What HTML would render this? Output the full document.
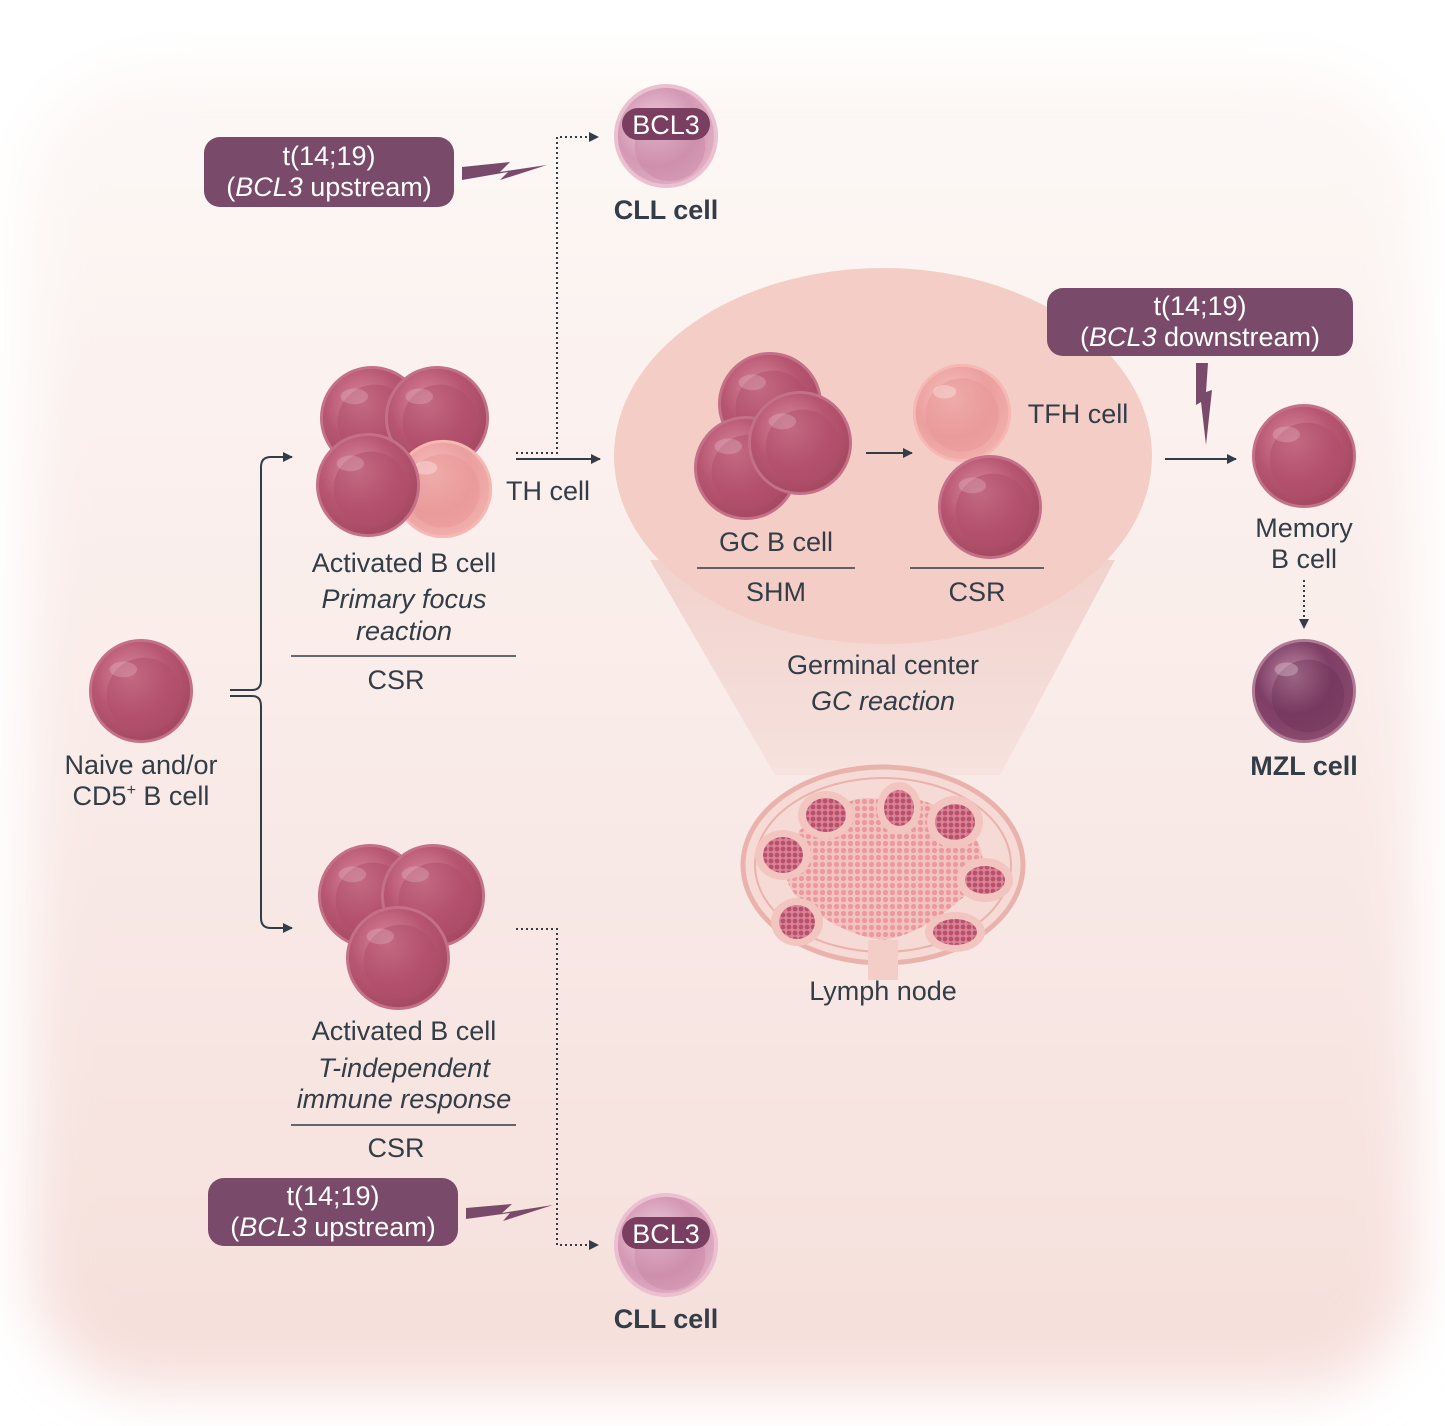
<!DOCTYPE html>
<html><head><meta charset="utf-8"><style>
html,body{margin:0;padding:0;background:#fff}
svg{display:block}
text{font-family:"Liberation Sans",sans-serif;fill:#333d47}
</style></head><body>
<svg width="1445" height="1426" viewBox="0 0 1445 1426" xmlns="http://www.w3.org/2000/svg">
<defs>
<linearGradient id="bg" x1="0" y1="0" x2="0" y2="1">
<stop offset="0" stop-color="#fdf8f6"/><stop offset="0.5" stop-color="#f9ebe8"/><stop offset="1" stop-color="#f6dfdb"/>
</linearGradient>
<filter id="soft" x="-10%" y="-10%" width="120%" height="120%"><feGaussianBlur stdDeviation="28"/></filter>
<radialGradient id="cm" cx="0.4" cy="0.35" r="0.7">
<stop offset="0" stop-color="#d98a9d"/><stop offset="0.55" stop-color="#b85672"/><stop offset="1" stop-color="#a4475f"/>
</radialGradient>
<radialGradient id="cp" cx="0.4" cy="0.35" r="0.7">
<stop offset="0" stop-color="#f6c1bd"/><stop offset="0.6" stop-color="#eb9f9f"/><stop offset="1" stop-color="#f2b0ad"/>
</radialGradient>
<radialGradient id="cl" cx="0.4" cy="0.4" r="0.7">
<stop offset="0" stop-color="#efcfe0"/><stop offset="0.6" stop-color="#d498b4"/><stop offset="1" stop-color="#e3b3c6"/>
</radialGradient>
<radialGradient id="cz" cx="0.4" cy="0.35" r="0.7">
<stop offset="0" stop-color="#c08aa5"/><stop offset="0.55" stop-color="#7e3e66"/><stop offset="1" stop-color="#8b4a6e"/>
</radialGradient>
<linearGradient id="cone" x1="0" y1="0" x2="0" y2="1">
<stop offset="0" stop-color="#f2d2cd"/><stop offset="1" stop-color="#f6e2de"/>
</linearGradient>
<pattern id="dots" width="7" height="7" patternUnits="userSpaceOnUse"><rect width="7" height="7" fill="#f4c2c0"/><circle cx="3.5" cy="3.5" r="2.6" fill="#e99a9e"/></pattern>
<pattern id="dd" width="6" height="6" patternUnits="userSpaceOnUse"><rect width="6" height="6" fill="#d98596"/><circle cx="3" cy="3" r="2.4" fill="#b94f6c"/></pattern>
<symbol id="c" viewBox="-55 -55 110 110" overflow="visible"><circle r="53" fill="#c47088"/><circle r="50" fill="url(#cm)"/><circle cx="3" cy="4" r="38" fill="#b14e6b" opacity="0.55"/><ellipse cx="-18" cy="-22" rx="14" ry="8" fill="#fff" opacity="0.18"/></symbol>
<symbol id="p" viewBox="-55 -55 110 110" overflow="visible"><circle r="51" fill="#f5b8b2"/><circle r="48" fill="url(#cp)"/><circle cx="0" cy="2" r="38" fill="#e79595" opacity="0.5"/><ellipse cx="-18" cy="-22" rx="12" ry="7" fill="#fff" opacity="0.3"/></symbol>
<symbol id="l" viewBox="-55 -55 110 110" overflow="visible"><circle r="53" fill="#ebc0d0"/><circle r="49" fill="url(#cl)"/><circle cx="4" cy="10" r="36" fill="#c884a4" opacity="0.45"/></symbol>
<symbol id="z" viewBox="-55 -55 110 110" overflow="visible"><circle r="53" fill="#b07a96"/><circle r="50" fill="url(#cz)"/><circle cx="4" cy="5" r="37" fill="#6f3259" opacity="0.45"/><ellipse cx="-18" cy="-22" rx="12" ry="7" fill="#fff" opacity="0.25"/></symbol>
<marker id="ar" viewBox="0 0 10 10" refX="9" refY="5" markerWidth="10" markerHeight="10" markerUnits="userSpaceOnUse" orient="auto"><path d="M0,0L10,5L0,10z" fill="#333d47"/></marker>
</defs>
<rect width="1445" height="1426" fill="#fff"/>
<rect x="30" y="70" width="1385" height="1320" rx="120" fill="url(#bg)" filter="url(#soft)"/>

<!-- germinal cone -->
<path d="M650,560 L775,775 L1000,775 L1115,560 Z" fill="url(#cone)"/>
<ellipse cx="883" cy="456" rx="269" ry="188" fill="#f5cdc7"/>

<!-- lymph node -->
<g>
<ellipse cx="883" cy="865" rx="140" ry="98" fill="#f6dad5" stroke="#eab2ad" stroke-width="5"/>
<ellipse cx="883" cy="865" rx="128" ry="87" fill="none" stroke="#eab2ad" stroke-width="2"/>
<rect x="868" y="940" width="30" height="40" fill="#f3cdc8"/>
<path d="M800,830 Q850,790 883,800 Q930,790 970,830 Q1000,870 960,900 Q920,935 883,940 Q840,935 800,900 Q770,870 800,830 Z" fill="url(#dots)"/>
<ellipse cx="826" cy="815" rx="28" ry="24" fill="#f2c5c0"/><ellipse cx="826" cy="815" rx="20" ry="17" fill="url(#dd)"/>
<ellipse cx="783" cy="855" rx="28" ry="25" fill="#f2c5c0"/><ellipse cx="783" cy="855" rx="20" ry="18" fill="url(#dd)"/>
<ellipse cx="797" cy="922" rx="26" ry="24" fill="#f2c5c0"/><ellipse cx="797" cy="922" rx="18" ry="17" fill="url(#dd)"/>
<ellipse cx="899" cy="808" rx="22" ry="26" fill="#f2c5c0"/><ellipse cx="899" cy="808" rx="15" ry="18" fill="url(#dd)"/>
<ellipse cx="955" cy="822" rx="28" ry="26" fill="#f2c5c0"/><ellipse cx="955" cy="822" rx="20" ry="18" fill="url(#dd)"/>
<ellipse cx="985" cy="880" rx="28" ry="22" fill="#f2c5c0"/><ellipse cx="985" cy="880" rx="20" ry="14" fill="url(#dd)"/>
<ellipse cx="955" cy="932" rx="30" ry="20" fill="#f2c5c0"/><ellipse cx="955" cy="932" rx="22" ry="13" fill="url(#dd)"/>
</g>

<!-- cells -->
<use href="#c" x="318" y="364" width="108" height="108"/>
<use href="#c" x="383" y="364" width="108" height="108"/>
<use href="#p" x="390" y="436" width="106" height="106"/>
<use href="#c" x="314" y="431" width="108" height="108"/>

<use href="#c" x="87" y="637" width="108" height="108"/>

<use href="#c" x="316" y="842" width="108" height="108"/>
<use href="#c" x="379" y="842" width="108" height="108"/>
<use href="#c" x="344" y="904" width="108" height="108"/>

<use href="#c" x="716" y="350" width="108" height="108"/>
<use href="#c" x="692" y="414" width="108" height="108"/>
<use href="#c" x="746" y="389" width="108" height="108"/>
<use href="#p" x="909" y="360" width="106" height="106"/>
<use href="#c" x="936" y="453" width="108" height="108"/>

<use href="#c" x="1250" y="402" width="108" height="108"/>
<use href="#z" x="1250" y="637" width="108" height="108"/>

<use href="#l" x="612" y="82" width="108" height="108"/>
<use href="#l" x="612" y="1191" width="108" height="108"/>
<rect x="622" y="108" width="88" height="32" rx="16" fill="#7a3e60"/>
<text x="666" y="134" font-size="27" text-anchor="middle" style="fill:#fff">BCL3</text>
<rect x="622" y="1217" width="88" height="32" rx="16" fill="#7a3e60"/>
<text x="666" y="1243" font-size="27" text-anchor="middle" style="fill:#fff">BCL3</text>

<!-- connectors -->
<g stroke="#333d47" stroke-width="2" fill="none">
<path d="M230,690 H252 Q261,690 261,680 V467 Q261,457 271,457 H292" marker-end="url(#ar)"/>
<path d="M230,696 H252 Q261,696 261,706 V918 Q261,928 271,928 H292" marker-end="url(#ar)"/>
<path d="M516,459 H600" marker-end="url(#ar)"/>
<path d="M866,453 H912" marker-end="url(#ar)"/>
<path d="M1165,459 H1236" marker-end="url(#ar)"/>
<path d="M291,656 H516 M291,1125 H516 M697,568 H855 M910,568 H1044" stroke-width="1.5"/>
</g>
<g stroke="#333d47" stroke-width="2" fill="none" stroke-dasharray="2,3">
<path d="M516,453 H557 V137 H598" marker-end="url(#ar)"/>
<path d="M516,929 H557 V1245 H598" marker-end="url(#ar)"/>
<path d="M1304,580 V628" marker-end="url(#ar)"/>
</g>

<!-- lightning -->
<path d="M462,167 L510,162 L500,172 L547,165 L500,180 L508,172 L462,180 Z" fill="#7a4a6a"/>
<path d="M466,1208 L512,1204 L502,1213 L553,1205 L503,1221 L510,1213 L466,1219 Z" fill="#7a4a6a"/>
<path d="M1196,363 L1208,363 L1206,392 L1212,390 L1206,445 L1201,402 L1196,405 Z" fill="#7a4a6a"/>

<!-- boxes -->
<rect x="204" y="137" width="250" height="70" rx="16" fill="#7a4a6a"/>
<text x="329" y="165" font-size="27" text-anchor="middle" style="fill:#fff">t(14;19)</text>
<text x="329" y="196" font-size="27" text-anchor="middle" style="fill:#fff">(<tspan font-style="italic" style="fill:#fff">BCL3</tspan> upstream)</text>
<rect x="208" y="1178" width="250" height="68" rx="16" fill="#7a4a6a"/>
<text x="333" y="1205" font-size="27" text-anchor="middle" style="fill:#fff">t(14;19)</text>
<text x="333" y="1236" font-size="27" text-anchor="middle" style="fill:#fff">(<tspan font-style="italic" style="fill:#fff">BCL3</tspan> upstream)</text>
<rect x="1047" y="288" width="306" height="68" rx="16" fill="#7a4a6a"/>
<text x="1200" y="315" font-size="27" text-anchor="middle" style="fill:#fff">t(14;19)</text>
<text x="1200" y="346" font-size="27" text-anchor="middle" style="fill:#fff">(<tspan font-style="italic" style="fill:#fff">BCL3</tspan> downstream)</text>

<!-- labels -->
<g font-size="27" text-anchor="middle">
<text x="666" y="219" font-weight="bold">CLL cell</text>
<text x="666" y="1328" font-weight="bold">CLL cell</text>
<text x="548" y="500">TH cell</text>
<text x="404" y="572">Activated B cell</text>
<text x="404" y="608" font-style="italic">Primary focus</text>
<text x="404" y="640" font-style="italic">reaction</text>
<text x="396" y="689">CSR</text>
<text x="141" y="774">Naive and/or</text>
<text x="141" y="805">CD5<tspan font-size="16" dy="-10">+</tspan><tspan dy="10"> B cell</tspan></text>
<text x="404" y="1040">Activated B cell</text>
<text x="404" y="1077" font-style="italic">T-independent</text>
<text x="404" y="1108" font-style="italic">immune response</text>
<text x="396" y="1157">CSR</text>
<text x="776" y="551">GC B cell</text>
<text x="776" y="601">SHM</text>
<text x="977" y="601">CSR</text>
<text x="1078" y="423">TFH cell</text>
<text x="883" y="674">Germinal center</text>
<text x="883" y="710" font-style="italic">GC reaction</text>
<text x="883" y="1000">Lymph node</text>
<text x="1304" y="537">Memory</text>
<text x="1304" y="568">B cell</text>
<text x="1304" y="775" font-weight="bold">MZL cell</text>
</g>
</svg>
</body></html>
